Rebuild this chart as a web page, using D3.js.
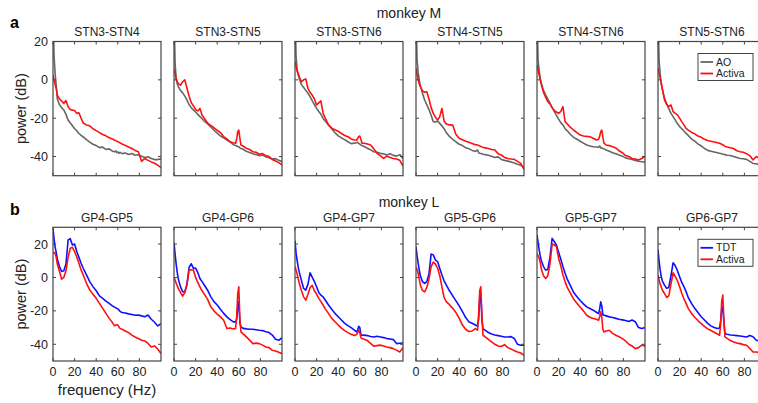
<!DOCTYPE html>
<html>
<head>
<meta charset="utf-8">
<script src="https://cdn.jsdelivr.net/npm/d3@7"></script>
<style>
  body { margin: 0; background: #fff; }
  text { font-family: "Liberation Sans", Arial, sans-serif; fill: #222; }
</style>
</head>
<body>
<div id="app"></div>
<script>
// frequency grid (Hz) shared by every trace
const freqs = [0,1,2,3,4,6,8,10,12,14,16,18,20,22,24,26,28,31,34,37,40,43,46,49,52,55,57,58,59,60,61,62,64,67,70,73,76,79,82,85,88,91,94,97,100];

// monkey M titles + traces (dB)
const titlesM = ["STN3-STN4","STN3-STN5","STN3-STN6","STN4-STN5","STN4-STN6","STN5-STN6"];
const aoM = [
  [35,12,3,-3,-10,-13,-14.5,-15.7,-18,-21,-22.5,-24,-25.5,-26.5,-28,-29,-29.8,-31.2,-32.5,-33.6,-34.3,-35.3,-35.1,-36.3,-36,-37.2,-37.5,-37,-38,-37.6,-38.3,-37.8,-38.5,-38.2,-38.9,-38.4,-39.3,-39.1,-39.8,-40.5,-40.1,-41,-41.6,-41.6,-41.2],
  [35,8.6,1,-2,-3.5,-5.5,-6.8,-8.5,-10.5,-13,-14.5,-15.7,-16.8,-18,-19.2,-20.3,-21.5,-22.9,-24.5,-26.3,-27.8,-29.3,-30.2,-31.4,-32.5,-33.8,-34.2,-34.5,-34.8,-35,-35.5,-35.8,-36.2,-37.3,-37.9,-38.6,-39,-39.6,-39.2,-40.2,-40.6,-41.3,-41.1,-42,-42.7],
  [35,12,5,2.5,0.5,-2.5,-4,-5.5,-7,-8.8,-11,-13,-14.9,-16.5,-18,-20.1,-21.5,-23.5,-25.5,-27.6,-29.2,-30.3,-31.2,-32.3,-33.3,-33,-32.8,-32.5,-33.2,-33.5,-34,-34.3,-34.8,-35.7,-36.5,-37.5,-37.8,-38.3,-38.6,-39.2,-38.5,-39.4,-39.8,-39,-41],
  [35,10,4,0,-3,-7,-10.5,-13,-15.5,-18.5,-21.8,-22,-21.5,-22.7,-24,-25.5,-27.5,-29.5,-31,-32.3,-33.6,-34.3,-35.4,-36,-36.8,-37.3,-36.6,-38,-38.3,-38.4,-38.6,-38.8,-39,-39.3,-39.8,-40.5,-40.2,-41.5,-42,-42.4,-42.8,-43.4,-44,-44.5,-45.7],
  [35,10,5,1,-1.8,-5.5,-8,-10,-12.2,-14.5,-16.5,-18.5,-20.5,-22.3,-23.5,-25.5,-26.6,-28.5,-30,-31,-32,-33,-34,-34.5,-34.9,-35,-35.2,-34.5,-35.5,-35.5,-35.8,-36,-36.6,-37.3,-38,-38.5,-39.2,-39.8,-40.7,-41.2,-41.6,-42,-42.5,-42.7,-43],
  [35,10,3,-1.8,-5,-9.5,-12.5,-15,-17.5,-19.2,-21,-22.8,-24.4,-25.5,-26.7,-27.9,-29,-30.8,-32,-33.4,-34.5,-35.8,-36.8,-37.2,-37.6,-38,-38.3,-38.4,-38.6,-38.7,-38.9,-39,-39.3,-39.5,-40,-40.5,-41,-41.2,-41.5,-42.5,-43.6,-43.8,-44.3,-44.8,-45.5]
];
const activaM = [
  [2.5,0,-2.5,-4.5,-8,-10,-11,-12.3,-10.8,-14,-15.5,-15.8,-16,-17.5,-17.2,-20,-22.5,-23.5,-24,-25.5,-26.5,-27.5,-28.5,-29.2,-30.2,-30.8,-31.5,-31.6,-32,-32.3,-32.5,-32.8,-33.5,-34.2,-35,-35.8,-36.8,-37.5,-42.5,-41,-42,-42.8,-43.5,-44.5,-45.8],
  [5.5,3,0.5,-1,-2,-2.8,-1,0,-4.4,-8.5,-12,-13.5,-15.5,-16.2,-14.9,-18.5,-20,-22.5,-23.8,-25,-26.3,-27.5,-29.7,-30.8,-32.3,-32.8,-33.1,-31,-27,-26.2,-30.5,-34,-34.5,-35.7,-36.3,-37.5,-37.8,-38.8,-38.5,-39.5,-40,-41.5,-42.3,-43.2,-44.4],
  [9.5,7,4.5,3.4,1.5,-1,0,0.5,-4.5,-6.5,-8,-10,-13.1,-12,-11,-17.5,-20,-23.5,-25.2,-26,-26.8,-28,-29,-29.7,-30.8,-31.4,-31.5,-30.5,-29.5,-29.3,-31,-33,-33.1,-33.5,-34,-36,-38.3,-39.5,-41,-39.8,-40.5,-41,-41.3,-42,-45],
  [6,3,0,-2,-3.5,-5.8,-6.5,-6.2,-10,-14.5,-17.5,-19.5,-21,-19.2,-14.9,-21.5,-23,-23.5,-23.6,-28.5,-30.5,-31.2,-32,-32.6,-33.2,-33.8,-34,-34.2,-34.5,-34.7,-35,-35.2,-35.5,-35.8,-36.3,-36.6,-38.5,-39.2,-40.5,-41,-41.3,-41.5,-42.5,-43.6,-46.7],
  [7.7,5,2.5,0,-2.5,-6.5,-9,-11.4,-12.5,-14.5,-16,-16.8,-17.5,-16.5,-14,-21.8,-23,-24.8,-26.3,-27.5,-28.8,-29.3,-29.5,-29.7,-30.5,-31.4,-31,-29.5,-27,-26.2,-30,-33,-34,-34.3,-34.9,-35.5,-37,-38,-39.5,-40,-41,-41.3,-41.8,-41,-40],
  [6,3.5,1,-1.8,-4.5,-10.5,-12.8,-14,-13.1,-16.6,-17.5,-18.3,-20,-21.8,-23.5,-25.3,-26.2,-27.3,-28.2,-29.3,-30,-31,-31.6,-32,-32.4,-32.8,-33.1,-33.3,-33.6,-33.8,-34.3,-34.6,-35,-35.4,-35.8,-37,-37.5,-37.8,-38.5,-39.5,-41.8,-40,-41,-42,-43]
];

// monkey L titles + traces (dB)
const titlesL = ["GP4-GP5","GP4-GP6","GP4-GP7","GP5-GP6","GP5-GP7","GP6-GP7"];
const tdtL = [
  [29.4,23,18,15,11,6.5,3.6,4,8,22.4,23.2,19.4,20,15.5,12,8.5,5.5,1.5,-2.5,-5.5,-8,-11,-12.5,-14.2,-15.5,-17,-17.8,-18,-18.5,-18.8,-19.5,-20.3,-21,-21.3,-21.8,-22.2,-22.6,-22.5,-23,-23.5,-22.5,-25,-26.8,-29,-27.6],
  [20.8,14,8,3,-1,-5.5,-8.6,-8.5,-4,6,8.2,5.4,5.6,3,-0.6,-2.5,-4.5,-7.5,-11.5,-14.5,-16.5,-19,-21.5,-23.6,-25.2,-26.6,-26.6,-25,-18,-14.6,-27,-29.6,-30.5,-30.8,-31,-31,-31.3,-31.6,-31.8,-32.5,-33,-34.5,-37,-37.6,-36],
  [22,14.4,10,6,3,-2,-6.6,-7.6,-4,2.8,0,-2.5,-5.6,-9,-10.6,-11.6,-13.5,-16.5,-19,-21.5,-23.5,-25.5,-27.5,-28.8,-30,-31.5,-32.6,-31.5,-29.2,-30,-34,-34.6,-34.5,-34.8,-35.3,-35.6,-35.2,-35.6,-36,-36.6,-36.8,-37.2,-39.6,-39.4,-39.2],
  [18.4,13,8.4,4.5,1,-2.5,-3.6,-2.5,2,14,13.5,10.4,9.5,5.4,1.5,-2,-4.5,-8,-11,-14,-17,-20.5,-24,-26.6,-27.4,-28.5,-29.2,-25,-12,-9.6,-25,-30.6,-31.5,-33,-33.8,-34.4,-34.8,-35.2,-35.6,-35.6,-35.4,-36.5,-40,-40.6,-40.6],
  [25.4,21,16.5,13,10,6.5,4.4,4.8,12,23.4,21.5,19.4,15,11,6.5,2.5,-1,-5,-9,-11.5,-13.8,-15.8,-17.6,-18.6,-19.6,-20.8,-21.6,-19,-14.6,-17,-22.4,-22.6,-23,-23.6,-24,-24.5,-25,-25.4,-25.8,-26.4,-25.5,-26.5,-30,-30.6,-30],
  [16.8,10,4.5,0.4,-2,-4.6,-6.5,-6,1,8.8,7,4,0.4,-3,-5.5,-8.5,-12,-15.5,-18.5,-21,-23.5,-25.5,-27.5,-29,-30,-30.6,-30.3,-26,-19,-17.6,-27,-33.6,-34,-34.4,-34.6,-34.8,-35,-35.3,-35.6,-34.8,-35.5,-37.6,-38,-38.5,-39]
];
const activaL = [
  [14.4,15,14.4,12,8,3.5,-1,0,4,12,17.5,18,15.5,12.2,8.5,4.5,1.5,-3.5,-7.5,-10,-12.5,-15.5,-18.5,-21.5,-24.5,-27,-29,-28.6,-28.2,-28.5,-29.5,-30.5,-31,-32,-33,-34.5,-35.6,-36.5,-37.6,-38,-39.5,-41.6,-41,-42.8,-45.6],
  [0,-1.5,-3.5,-5,-6.6,-9,-11.2,-9,-4.5,4.4,4.6,4.4,0,-3,-5.6,-8,-10,-13,-17.5,-20,-22,-23.6,-25.6,-30.6,-30.3,-30.8,-30.5,-24,-10,-5.6,-25,-32.6,-33.8,-35.6,-37.5,-39.6,-39.3,-39.6,-40.5,-41.6,-42,-43.6,-44,-44.8,-45.6],
  [6.4,4.4,2,-1,-3.6,-8,-11.6,-13.6,-10,-6,-4.8,-8,-10,-12.5,-14.5,-16.5,-18.8,-21.5,-24.5,-26.5,-28.5,-30.3,-31.8,-33,-34,-34.8,-34.2,-33,-31.6,-33,-36,-36.6,-37,-37.8,-39.5,-41.2,-40.8,-40.5,-41,-41.6,-42,-42.6,-43.5,-44.6,-42],
  [6.4,4.5,2.4,-1,-4.5,-7.8,-8.6,-6,-1,6.5,9.2,8,5.5,1,-5.6,-12,-14.5,-16.3,-18.5,-21,-24.5,-28.5,-31,-32.4,-32,-30.6,-31.5,-22,-8,-5.6,-22,-34.6,-35.5,-37,-38.5,-40,-41,-41.3,-40.2,-42,-42.8,-43.8,-44.6,-45.2,-46.6],
  [14.4,13,11.5,9,5,1,-0.6,1,8,20,19.5,18.4,11.5,7,1.5,-2.5,-6,-9.5,-13,-15.5,-17.8,-20,-22.6,-23.8,-24.6,-25,-25.6,-23.5,-20.6,-24,-31,-32.6,-32,-31.6,-33.5,-34.6,-35.5,-36.6,-38,-40,-41,-42.6,-42,-40.5,-41],
  [1.4,-1.5,-4,-5.6,-7.5,-9.6,-12,-11,-4,2.8,0.5,-2,-5.6,-9.5,-12.8,-15.5,-18.5,-21.5,-23.8,-25.8,-27.7,-29.3,-30.8,-31.8,-32.8,-33.8,-34.6,-28,-14,-10.6,-25,-35.6,-36.5,-37.8,-38.6,-39.3,-39.6,-40.2,-40.6,-42.5,-44.6,-44.6,-45,-45.5,-46]
];

const xTicks = [0, 20, 40, 60, 80];
const yTicks = [-40, -20, 0, 20];

const W = 758, H = 403;
const panelLeft = 53, panelStep = 121, panelW = 108;

const svg = d3.select("#app").append("svg")
  .attr("width", W).attr("height", H);

const rows = [
  { top: 41.5, bottom: 175.7, domain: [-50, 20], titles: titlesM, a: aoM, b: activaM,
    colA: "#666", names: ["AO", "Activa"], xLabels: false, letter: "a", heading: "monkey M",
    letterY: 28, headY: 18 },
  { top: 227.3, bottom: 361, domain: [-50, 30], titles: titlesL, a: tdtL, b: activaL,
    colA: "#1010ff", names: ["TDT", "Activa"], xLabels: true, letter: "b", heading: "monkey L",
    letterY: 215, headY: 206.5 }
];
const red = "#ff1010";

rows.forEach((row, ri) => {
  const y = d3.scaleLinear().domain(row.domain).range([row.bottom, row.top]);

  svg.append("text").attr("x", 409).attr("y", row.headY)
    .attr("text-anchor", "middle").style("font-size", "14px").text(row.heading);
  svg.append("text").attr("x", 10).attr("y", row.letterY)
    .style("font-size", "16px").style("font-weight", "bold").style("fill", "#000").text(row.letter);
  svg.append("text")
    .attr("transform", `translate(26,${(row.top + row.bottom) / 2}) rotate(-90)`)
    .attr("text-anchor", "middle").style("font-size", "14.5px").text("power (dB)");

  row.titles.forEach((title, pi) => {
    const x0 = panelLeft + pi * panelStep;
    const x = d3.scaleLinear().domain([0, 100]).range([x0, x0 + panelW]);
    const g = svg.append("g");
    const clipId = `clip${ri}${pi}`;
    g.append("clipPath").attr("id", clipId).append("rect")
      .attr("x", x0).attr("y", row.top).attr("width", panelW).attr("height", row.bottom - row.top);

    g.append("text").attr("x", x0 + panelW / 2).attr("y", row.top - 5.5)
      .attr("text-anchor", "middle").style("font-size", "12px").text(title);

    const line = d3.line().x((d, i) => x(freqs[i])).y(d => y(d));
    const lines = g.append("g").attr("clip-path", `url(#${clipId})`);
    lines.append("path").datum(row.a[pi]).attr("d", line)
      .attr("fill", "none").attr("stroke", row.colA).attr("stroke-width", 1.6).attr("stroke-linejoin", "round");
    lines.append("path").datum(row.b[pi]).attr("d", line)
      .attr("fill", "none").attr("stroke", red).attr("stroke-width", 1.6).attr("stroke-linejoin", "round");

    // ticks inside the box on all four sides
    const tk = g.append("g").attr("stroke", "#444").attr("stroke-width", 1);
    xTicks.forEach(t => {
      tk.append("line").attr("x1", x(t)).attr("x2", x(t)).attr("y1", row.bottom).attr("y2", row.bottom - 3);
      tk.append("line").attr("x1", x(t)).attr("x2", x(t)).attr("y1", row.top).attr("y2", row.top + 3);
    });
    yTicks.forEach(t => {
      tk.append("line").attr("x1", x0).attr("x2", x0 + 3).attr("y1", y(t)).attr("y2", y(t));
      tk.append("line").attr("x1", x0 + panelW).attr("x2", x0 + panelW - 3).attr("y1", y(t)).attr("y2", y(t));
    });
    g.append("rect").attr("x", x0).attr("y", row.top).attr("width", panelW).attr("height", row.bottom - row.top)
      .attr("fill", "none").attr("stroke", "#444").attr("stroke-width", 1.2);

    if (pi === 0) {
      yTicks.forEach(t => {
        g.append("text").attr("x", x0 - 5).attr("y", y(t) + 4.5)
          .attr("text-anchor", "end").style("font-size", "12.5px").text(t);
      });
    }
    if (row.xLabels) {
      xTicks.forEach(t => {
        g.append("text").attr("x", x(t)).attr("y", row.bottom + 14.5)
          .attr("text-anchor", "middle").style("font-size", "12.5px").text(t);
      });
    }

    if (pi === row.titles.length - 1) {
      const lx = x0 + 40, ly = row.top + 12;
      const leg = g.append("g");
      leg.append("rect").attr("x", lx).attr("y", ly).attr("width", 55).attr("height", 27)
        .attr("fill", "#fff").attr("stroke", "#444").attr("stroke-width", 1);
      [[row.colA, row.names[0]], [red, row.names[1]]].forEach(([c, n], k) => {
        const yy = ly + 8.5 + k * 11.5;
        leg.append("line").attr("x1", lx + 2.5).attr("x2", lx + 15).attr("y1", yy).attr("y2", yy)
          .attr("stroke", c).attr("stroke-width", 1.8);
        leg.append("text").attr("x", lx + 18).attr("y", yy + 3.6).style("font-size", "10.5px").text(n);
      });
    }
  });
});

svg.append("text").attr("x", 107).attr("y", 395)
  .attr("text-anchor", "middle").style("font-size", "15px").text("frequency (Hz)");
</script>
</body>
</html>
